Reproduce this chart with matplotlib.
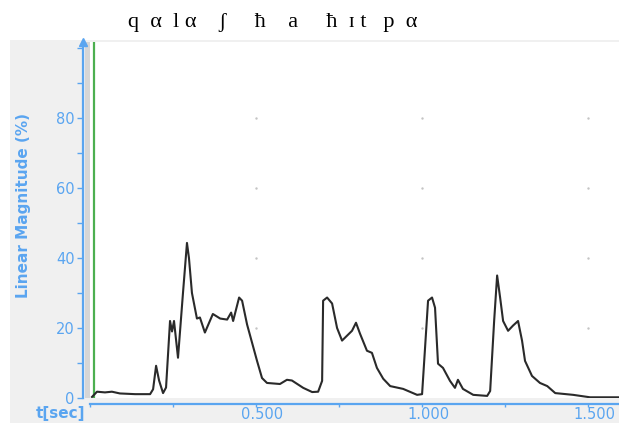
import matplotlib
matplotlib.use('Agg')
import matplotlib.pyplot as plt
import matplotlib.transforms as mtransforms
from matplotlib.patches import Rectangle
from matplotlib.ticker import MultipleLocator, FormatStrFormatter
import numpy as np


# time axis (sec) and linear magnitude (%) of the recorded utterance
t_sec = [0.006, 0.021, 0.045, 0.066, 0.090, 0.136, 0.181, 0.190, 0.199, 0.208,
         0.220, 0.229, 0.241, 0.247, 0.253, 0.265, 0.280, 0.292, 0.298, 0.307,
         0.322, 0.331, 0.346, 0.370, 0.392, 0.413, 0.425, 0.431, 0.449, 0.458,
         0.473, 0.488, 0.503, 0.518, 0.533, 0.572, 0.593, 0.608, 0.642, 0.669,
         0.687, 0.699, 0.702, 0.714, 0.729, 0.744, 0.759, 0.774, 0.789, 0.801,
         0.813, 0.834, 0.849, 0.864, 0.883, 0.904, 0.943, 0.985, 1.000, 1.009,
         1.018, 1.030, 1.039, 1.048, 1.063, 1.084, 1.099, 1.108, 1.123, 1.154,
         1.196, 1.205, 1.217, 1.226, 1.235, 1.244, 1.259, 1.274, 1.289, 1.301,
         1.310, 1.331, 1.355, 1.377, 1.401, 1.455, 1.506, 1.593]
magnitude = [0.3, 1.8, 1.6, 1.8, 1.3, 1.1, 1.1, 2.5, 9.2, 5.0,
             1.4, 3.0, 22.0, 19.0, 22.0, 11.5, 30.0, 44.3, 40.0, 30.0,
             22.7, 23.0, 18.7, 24.0, 22.7, 22.4, 24.4, 22.0, 28.7, 27.8,
             21.0, 15.8, 10.6, 5.7, 4.3, 4.0, 5.2, 5.0, 2.9, 1.7,
             1.8, 4.9, 27.8, 28.7, 27.0, 20.0, 16.4, 17.8, 19.2, 21.5,
             18.4, 13.5, 12.9, 8.6, 5.5, 3.4, 2.6, 0.9, 1.1, 14.4,
             27.8, 28.7, 25.8, 9.8, 8.6, 4.9, 2.9, 5.2, 2.6, 0.9,
             0.6, 2.0, 22.0, 35.0, 28.7, 22.0, 19.2, 20.7, 22.0, 16.4,
             10.6, 6.3, 4.3, 3.4, 1.4, 0.9, 0.2, 0.2]

cursor_t = 0.012
title = 'q  α  l α    ʃ     ħ    a     ħ  ɪ t   p  α'

blue = '#5aa5f0'
W, H = 619, 423

fig = plt.figure(figsize=(W / 100, H / 100), dpi=100, facecolor='white')

# grey panel behind the axes
fig.patches.append(Rectangle((10 / W, 0), 1 - 10 / W, 1 - 40 / H,
                             transform=fig.transFigure, facecolor='#f0f0f0',
                             edgecolor='none', zorder=-2))
fig.patches.append(Rectangle((85 / W, 25 / H), 6 / W, (398 - 42) / H,
                             transform=fig.transFigure, facecolor='#d6d6d6',
                             edgecolor='none', zorder=-1))

ax = fig.add_axes([90 / W, 25 / H, 1 - 90 / W, (398 - 42) / H])
ax.set_zorder(2)
ax.set_facecolor('white')
ax.set_xlim(0, 1.593)
ax.set_ylim(0, 101.7)

# sparse grid dots at major tick crossings
gx, gy = np.meshgrid([0.5, 1.0, 1.5], [20, 40, 60, 80])
ax.scatter(gx.ravel(), gy.ravel(), s=3, color='#c4c4c4', zorder=1, linewidths=0)

ax.axvline(cursor_t, color='#4caf50', lw=1.6, zorder=2)
ax.plot(t_sec, magnitude, color='#2a2a2a', lw=1.5, zorder=3)

for side in ['top', 'right']:
    ax.spines[side].set_visible(False)
ax.spines['left'].set_position(('outward', 5))
ax.spines['bottom'].set_position(('outward', 4))
for side in ['left', 'bottom']:
    ax.spines[side].set_color(blue)
    ax.spines[side].set_linewidth(1.6)

# arrow head on top of the y axis
arrow_tr = mtransforms.offset_copy(ax.transAxes, fig=fig, x=-7, y=0, units='dots')
ax.plot([0], [1.0], marker='^', color=blue, markersize=6, transform=arrow_tr,
        clip_on=False)

ax.yaxis.set_major_locator(MultipleLocator(20))
ax.yaxis.set_minor_locator(MultipleLocator(10))
ax.set_yticks([0, 20, 40, 60, 80])
ax.xaxis.set_major_locator(MultipleLocator(0.5))
ax.xaxis.set_minor_locator(MultipleLocator(0.25))
ax.xaxis.set_major_formatter(FormatStrFormatter('%.3f'))
ax.set_xticks([0.5, 1.0, 1.5])

ax.tick_params(axis='y', which='both', direction='out', colors=blue,
               length=4, width=1, labelsize=10.5, pad=2)
ax.tick_params(axis='x', which='both', direction='out', colors=blue,
               length=2, width=1, labelsize=10.5, pad=0.5)
for lbl in ax.get_xticklabels():
    lbl.set_transform(lbl.get_transform() +
                      mtransforms.ScaledTranslation(0.06, 0, fig.dpi_scale_trans))

fig.text(24 / W, 1 - 205 / H, 'Linear Magnitude (%)', rotation=90,
         color=blue, fontsize=11, fontweight='bold', ha='center', va='center')
fig.text(61 / W, 1 - 413 / H, 't[sec]', color=blue, fontsize=11,
         fontweight='bold', ha='center', va='center')

fig.text(128 / W, 1 - 22 / H, title, fontsize=16,
         family=['Liberation Serif', 'DejaVu Serif'], ha='left', va='center')

fig.savefig('out.png', dpi=100, facecolor='white')
